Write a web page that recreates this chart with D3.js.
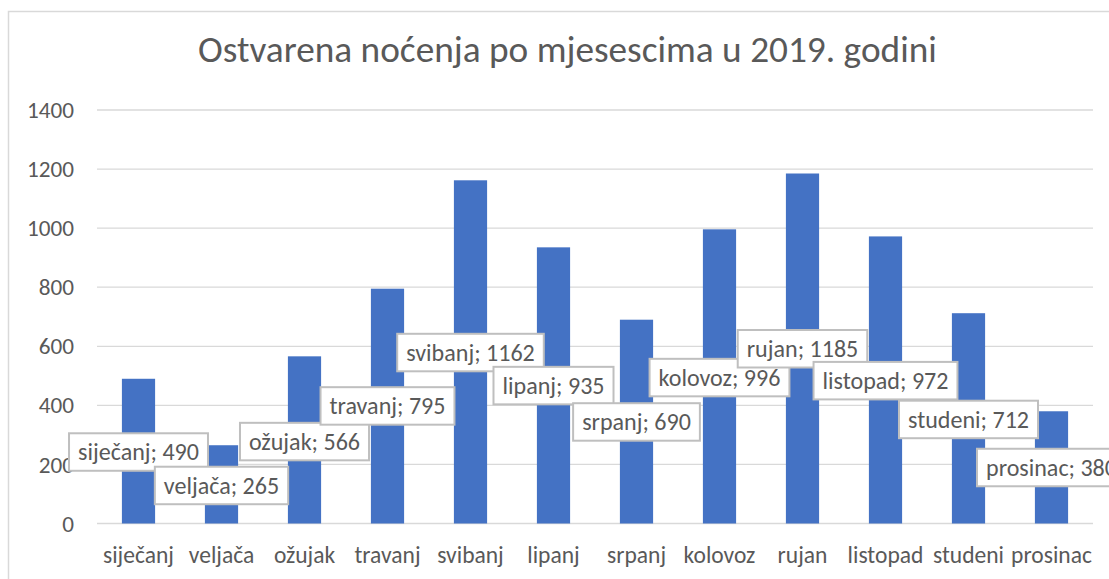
<!DOCTYPE html>
<html>
<head>
<meta charset="utf-8">
<script src="https://cdn.jsdelivr.net/npm/d3@7"></script>
<style>
  html, body { margin: 0; padding: 0; background: #fff; }
  svg { display: block; }
  text { font-family: Carlito, Calibri, Lato, sans-serif; fill: #595959; }
</style>
</head>
<body>
<svg id="chart" width="1109" height="579"></svg>
<script>
// ---- data ----
const title = "Ostvarena noćenja po mjesescima u 2019. godini";
const months = ["siječanj", "veljača", "ožujak", "travanj", "svibanj", "lipanj",
                "srpanj", "kolovoz", "rujan", "listopad", "studeni", "prosinac"];
const nights = [490, 265, 566, 795, 1162, 935, 690, 996, 1185, 972, 712, 380];
const yTicks = [0, 200, 400, 600, 800, 1000, 1200, 1400];
// label placement (pixel offset of label centre below bar top, as Excel placed them)
const labelDy = [73, 40, 85, 117, 172, 138, 102, 148, 175, 144, 106, 56];

// ---- layout ----
const svg = d3.select("#chart");
const plot = { left: 97, right: 1093, top: 110, bottom: 523.5 };

// helper: font size so a sample string reaches target width
function fitSize(sample, target, base) {
  const t = svg.append("text").attr("font-size", base).text(sample);
  const w = t.node().getComputedTextLength();
  t.remove();
  return base * target / w;
}
const titleSize = fitSize(title, 739, 30);
const tickSize = fitSize("1400", 47, 20);
const catSize = fitSize("siječanj", 71, 20);
const labSize = fitSize("siječanj; 490", 121, 20);

// chart outer border
svg.append("rect")
  .attr("x", 8.5).attr("y", 11.5).attr("width", 1200).attr("height", 700)
  .attr("fill", "none").attr("stroke", "#d9d9d9").attr("stroke-width", 1.5);

const x = d3.scaleBand().domain(months).range([plot.left, plot.right])
  .paddingInner(0.6).paddingOuter(0.3);
const y = d3.scaleLinear().domain([0, 1400]).range([plot.bottom, plot.top]);

// gridlines
svg.append("g").selectAll("line").data(yTicks).join("line")
  .attr("x1", plot.left).attr("x2", plot.right)
  .attr("y1", d => y(d)).attr("y2", d => y(d))
  .attr("stroke", "#d9d9d9").attr("stroke-width", 1.3);

// y axis labels
const yAxis = svg.append("g").attr("transform", `translate(${plot.left - 23},0)`)
  .call(d3.axisLeft(y).tickValues(yTicks).tickSize(0).tickPadding(0).tickFormat(d3.format("d")));
yAxis.select(".domain").remove();
yAxis.selectAll("text").attr("font-size", tickSize).attr("fill", "#595959")
  .attr("dy", null).attr("y", 7.6)
  .attr("font-family", "Carlito, Calibri, Lato, sans-serif");

// bars
svg.append("g").selectAll("rect").data(months).join("rect")
  .attr("x", d => x(d)).attr("width", x.bandwidth())
  .attr("y", (d, i) => y(nights[i]))
  .attr("height", (d, i) => y(0) - y(nights[i]))
  .attr("fill", "#4472C4");

// x axis labels
const xAxis = svg.append("g").attr("transform", `translate(0,${plot.bottom})`)
  .call(d3.axisBottom(x).tickSize(0).tickPadding(0));
xAxis.select(".domain").remove();
xAxis.selectAll("text").attr("font-size", catSize).attr("fill", "#595959")
  .attr("dy", null).attr("y", 39.5)
  .attr("font-family", "Carlito, Calibri, Lato, sans-serif");

// data labels
const lg = svg.append("g").selectAll("g").data(months).join("g")
  .attr("transform", (d, i) => `translate(${x(d) + x.bandwidth() / 2},${y(nights[i]) + labelDy[i]})`);
lg.append("text")
  .attr("text-anchor", "middle").attr("y", 8.5)
  .attr("font-size", labSize)
  .text((d, i) => `${d}; ${nights[i]}`);
lg.each(function () {
  const g = d3.select(this);
  const w = g.select("text").node().getComputedTextLength();
  g.insert("rect", "text")
    .attr("x", -w / 2 - 9).attr("y", -18.5)
    .attr("width", w + 18).attr("height", 37.5)
    .attr("fill", "#fff").attr("stroke", "#bfbfbf").attr("stroke-width", 2);
});

// title
svg.append("text")
  .attr("x", 567.5).attr("y", 62).attr("text-anchor", "middle")
  .attr("font-size", titleSize).text(title);
</script>
</body>
</html>
